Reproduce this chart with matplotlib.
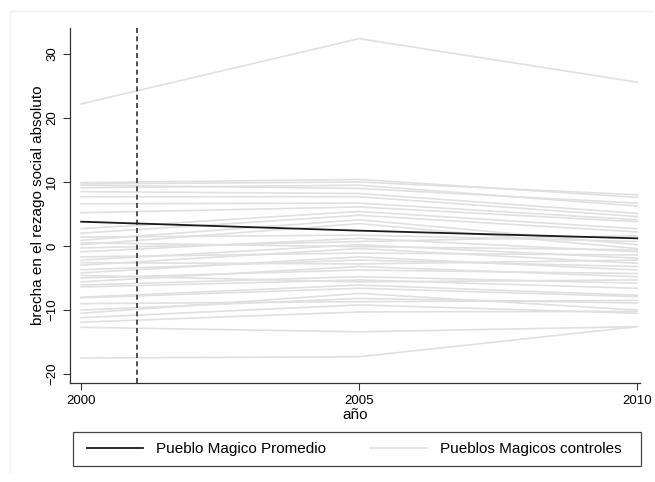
import matplotlib
matplotlib.use("Agg")
import matplotlib.pyplot as plt
from matplotlib.lines import Line2D
from matplotlib.patches import Rectangle

plt.rcParams['font.family'] = ['Liberation Sans', 'DejaVu Sans']

years = [2000, 2005, 2010]

# promedio de los pueblos magicos
promedio = [3.8, 2.4, 1.2]

# controles: un valor por anio para cada municipio
c2000 = [22.2, -17.5, 9.9, 9.7, 9.5, 9.1, 8.5, 7.7, 6.6, 5.2, 2.7, 2.0, 1.4, 0.9, 0.2, -0.3,
         -0.9, -1.7, -2.2, -3.0, -3.7, -4.2, -5.0, -5.6, -6.1, -6.4, -8.0, -8.1, -10.0, -10.5,
         -11.2, -11.9, -12.7, -2.6, 0.5, -4.6, -9.0]
c2005 = [32.4, -17.3, 10.4, 10.0, 9.0, 9.5, 8.2, 7.7, 6.7, 6.1, 5.4, 4.8, 1.7, 4.1, 3.5, 0.7,
         1.2, -1.1, 0.2, -0.4, -2.2, -1.7, -3.75, -3.2, -4.8, -5.3, -6.1, -6.6, -8.2, -7.4,
         -9.2, -10.3, -13.4, -2.8, -0.1, -5.6, -8.7]
c2010 = [25.6, -12.6, 7.6, 8.0, 6.7, 6.25, 5.1, 4.6, 4.1, 3.8, 2.7, 2.2, 0.7, 0.2, -0.4, 1.6,
         -0.9, -1.4, -1.9, -2.7, -3.2, -3.75, -4.3, -4.8, -5.8, -6.6, -7.7, -7.9, -8.9, -10.0,
         -10.5, -10.2, -12.6, -2.2, -0.6, -5.3, -8.5]

tratamiento = 2001

fig = plt.figure(figsize=(6.55, 4.82), dpi=100)
ax = fig.add_axes([70/655, 1-383/482, 570/655, 355/482])

# marco tenue de la grafica (estilo Stata)
fig.add_artist(Line2D([10/655, 10/655], [1-11/482, 1-472/482], color="#eef2f3", lw=1))
fig.add_artist(Line2D([10/655, 652/655], [1-11/482, 1-11/482], color="#eef2f3", lw=1))

for a, b, c in zip(c2000, c2005, c2010):
    ax.plot(years, [a, b, c], color="#e0e0e0", lw=1.2, zorder=1)
ax.plot(years, promedio, color="#1a1a1a", lw=1.3, zorder=3)
ax.axvline(tratamiento, color="#333333", ls=(0, (3, 2)), lw=1.2, zorder=2)

ax.set_xlim(1999.8, 2010.05)
ax.set_ylim(-21.4, 34.06)
ax.set_xticks(years)
ax.set_yticks([-20, -10, 0, 10, 20, 30])
ax.tick_params(labelsize=9.5, length=5, width=0.8, color="#333333")
for t in ax.get_yticklabels():
    t.set_rotation(90)
    t.set_va("center")
for s in ["top", "right"]:
    ax.spines[s].set_visible(False)
for s in ["left", "bottom"]:
    ax.spines[s].set_color("#333333")
    ax.spines[s].set_linewidth(0.9)

ax.set_xlabel("año", fontsize=11, labelpad=1)
ax.set_ylabel("brecha en el rezago social absoluto", fontsize=11, labelpad=1)

h1 = Line2D([], [], color="#1a1a1a", lw=1.3)
h2 = Line2D([], [], color="#e0e0e0", lw=1.2)
leg = fig.legend([h1, h2], ["Pueblo Magico Promedio", "Pueblos Magicos controles"],
                 loc="center", ncol=2,
                 bbox_to_anchor=(354/655, 1-449/482),
                 fontsize=11, handlelength=3.7, handletextpad=0.85,
                 frameon=False, borderaxespad=0, columnspacing=2.9)
# caja de la leyenda
fig.add_artist(Rectangle((73/655, 1-466/482), 568/655, 34/482, fill=False,
                         edgecolor="#444444", lw=0.9))

fig.savefig("out.png", dpi=100)
